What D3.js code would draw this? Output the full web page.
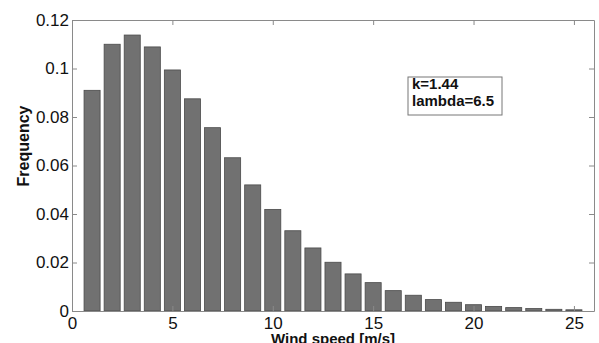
<!DOCTYPE html>
<html>
<head>
<meta charset="utf-8">
<script src="https://cdn.jsdelivr.net/npm/d3@7"></script>
<style>
  body { margin: 0; background: #fff; }
  svg { display: block; font-family: "Liberation Sans", Arial, sans-serif; }
</style>
</head>
<body>
<div id="graph"></div>
<script>
// wind speed bins (m/s) and their frequencies
let speeds = [1, 2, 3, 4, 5, 6, 7, 8, 9, 10, 11, 12, 13, 14, 15, 16, 17, 18, 19, 20, 21, 22, 23, 24, 25];
let freqs = [0.091, 0.110, 0.1138, 0.1089, 0.0994, 0.0875, 0.0756, 0.0632, 0.052, 0.0419,
  0.0331, 0.026, 0.0201, 0.0153, 0.0117, 0.0084, 0.0065, 0.0047, 0.0036, 0.0026,
  0.0019, 0.0014, 0.0010, 0.0007, 0.0005];
let xTicks = [0, 5, 10, 15, 20, 25];
let yTicks = [0, 0.02, 0.04, 0.06, 0.08, 0.1, 0.12];
let legendLines = ["k=1.44", "lambda=6.5"];

let svgWidth = 599, svgHeight = 343;
let margin = { top: 20, right: 5, bottom: 32, left: 72 };
let width = svgWidth - margin.left - margin.right;
let height = svgHeight - margin.top - margin.bottom;

let data = speeds.map((s, i) => ({ speed: s, freq: freqs[i] }));

let xScale = d3.scaleLinear().domain([0, 26]).range([0, width]);
let yScale = d3.scaleLinear().domain([0, 0.12]).range([height, 0]);

let svg = d3.select("#graph").append("svg")
  .attr("width", svgWidth)
  .attr("height", svgHeight);
let chartGroup = svg.append("g")
  .attr("transform", `translate(${margin.left},${margin.top})`);

// bars
let barW = xScale(0.8) - xScale(0);
chartGroup.selectAll("rect.bar")
  .data(data)
  .enter().append("rect")
  .attr("class", "bar")
  .attr("x", d => xScale(d.speed) - barW / 2)
  .attr("y", d => yScale(d.freq))
  .attr("width", barW)
  .attr("height", d => height - yScale(d.freq))
  .style("fill", "#717171")
  .style("stroke", "#4a4a4a")
  .style("stroke-width", 0.8);

// axes, matlab style: ticks pointing in, box on
let tickFmt = d => d === 0 ? "0" : d3.format("~g")(d);
let xAxis = chartGroup.append("g")
  .attr("transform", `translate(0,${height})`)
  .call(d3.axisBottom(xScale).tickValues(xTicks).tickSizeInner(-5).tickSizeOuter(0).tickPadding(6));
let yAxis = chartGroup.append("g")
  .call(d3.axisLeft(yScale).tickValues(yTicks).tickFormat(tickFmt).tickSizeInner(-5).tickSizeOuter(0).tickPadding(3));
let xTop = chartGroup.append("g")
  .call(d3.axisTop(xScale).tickValues(xTicks).tickSizeInner(-5).tickSizeOuter(0).tickFormat(""));
let yRight = chartGroup.append("g")
  .attr("transform", `translate(${width},0)`)
  .call(d3.axisRight(yScale).tickValues(yTicks).tickSizeInner(-5).tickSizeOuter(0).tickFormat(""));

[xAxis, yAxis, xTop, yRight].forEach(g => {
  g.select(".domain").style("stroke", "#8a8a8a");
  g.selectAll(".tick line").style("stroke", "#8a8a8a");
  g.selectAll(".tick text")
    .style("font-size", "17px")
    .style("fill", "#111")
    .style("font-family", "'Liberation Sans', Arial, sans-serif");
});

// axis labels
svg.append("text")
  .attr("x", margin.left + width / 2)
  .attr("y", 344)
  .style("text-anchor", "middle")
  .style("font-weight", "bold")
  .style("font-size", "15px")
  .style("fill", "#111")
  .text("Wind speed [m/s]");

svg.append("text")
  .attr("transform", "translate(29,146) rotate(-90)")
  .style("text-anchor", "middle")
  .style("font-weight", "bold")
  .style("font-size", "16px")
  .style("fill", "#111")
  .text("Frequency");

// annotation box
let legend = svg.append("g").attr("transform", "translate(408,77)");
legend.append("rect")
  .attr("width", 94)
  .attr("height", 38)
  .style("fill", "#fff")
  .style("stroke", "#777")
  .style("stroke-width", 1);
legend.selectAll("text")
  .data(legendLines)
  .enter().append("text")
  .attr("x", 4)
  .attr("y", (d, i) => 12 + i * 17)
  .style("font-weight", "bold")
  .style("font-size", "15px")
  .style("fill", "#111")
  .text(d => d);
</script>
</body>
</html>
